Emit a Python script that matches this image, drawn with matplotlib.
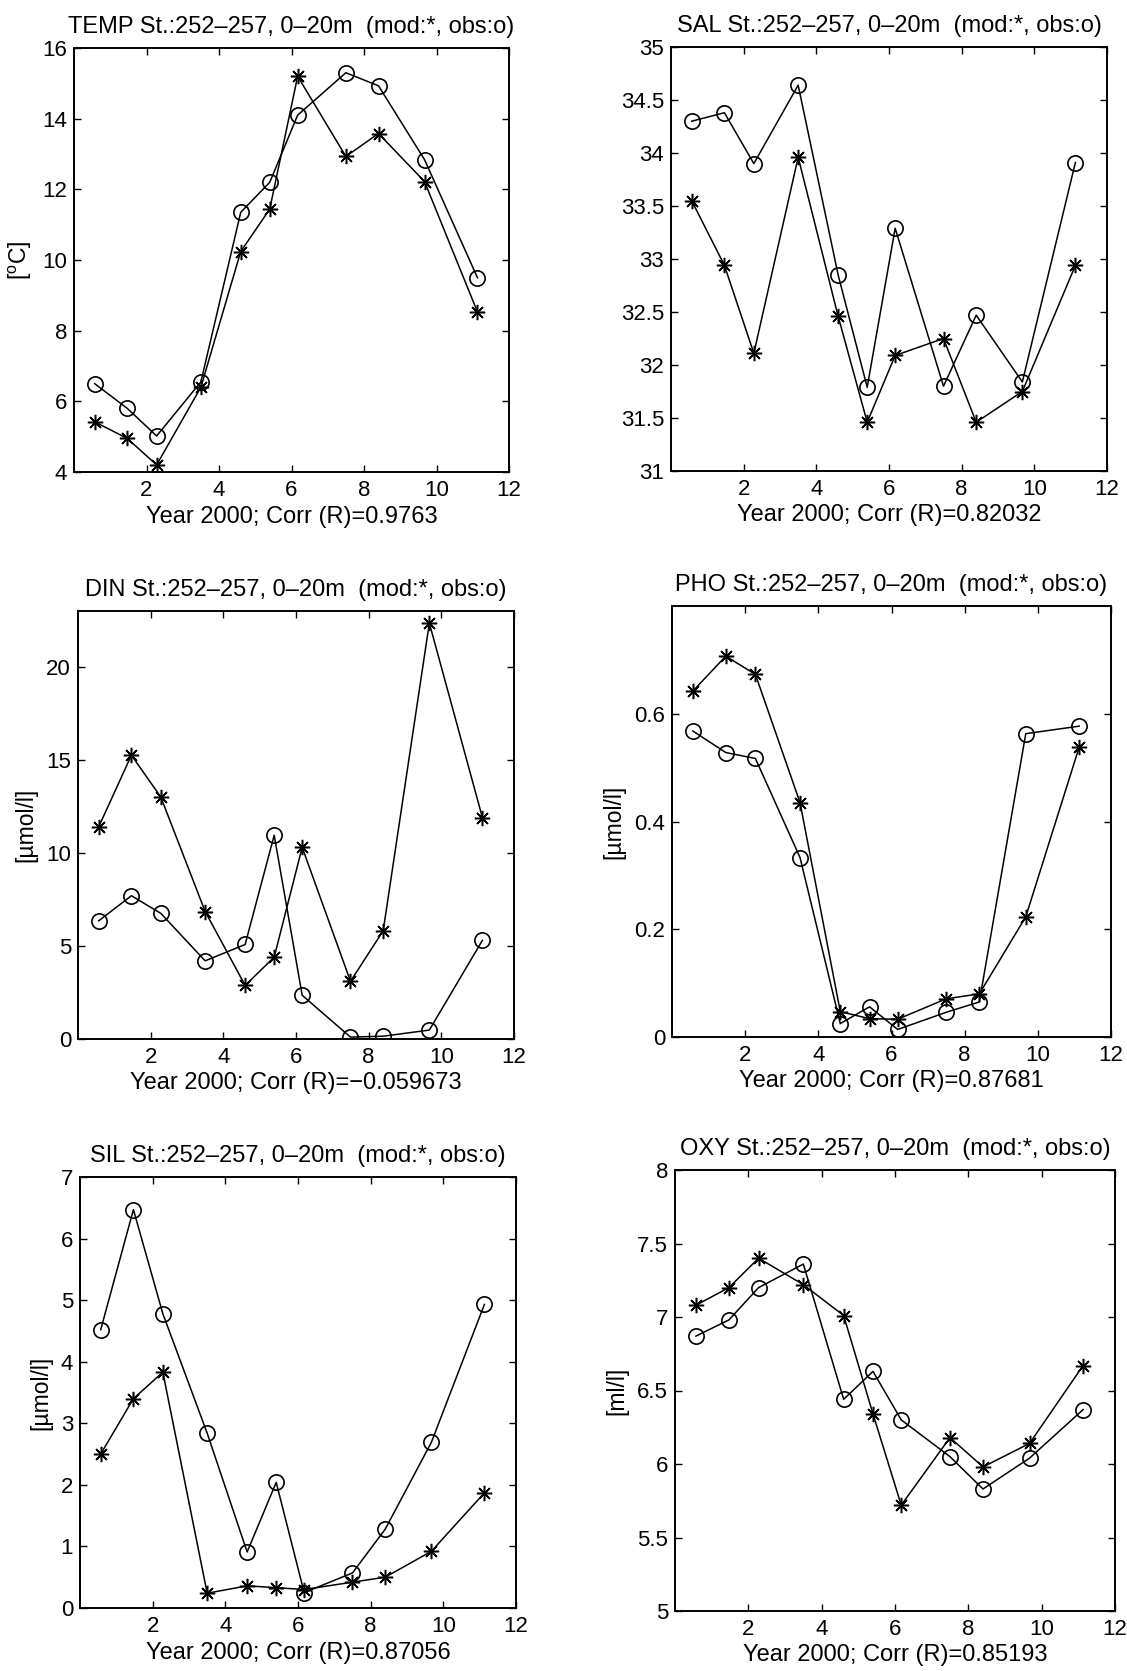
import matplotlib
matplotlib.use("Agg")
import matplotlib.pyplot as plt
from matplotlib.ticker import FuncFormatter

plt.rcParams['font.family'] = ['Liberation Sans', 'DejaVu Sans']
plt.rcParams['mathtext.fontset'] = 'custom'
plt.rcParams['mathtext.rm'] = 'Liberation Sans'
plt.rcParams['mathtext.it'] = 'Liberation Sans'

# ---- data ----
months = [0.57, 1.47, 2.28, 3.5, 4.6, 5.4, 6.17, 7.5, 8.4, 9.67, 11.13]

temp_obs = [6.5, 5.8, 5.02, 6.55, 11.35, 12.2, 14.1, 15.3, 14.93, 12.84, 9.5]
temp_mod = [5.42, 4.95, 4.2, 6.4, 10.24, 11.44, 15.2, 12.93, 13.58, 12.22, 8.53]

sal_obs = [34.30, 34.38, 33.90, 34.64, 32.85, 31.79, 33.29, 31.80, 32.47, 31.84, 33.91]
sal_mod = [33.55, 32.94, 32.11, 33.96, 32.46, 31.46, 32.09, 32.25, 31.46, 31.75, 32.94]

din_obs = [6.35, 7.7, 6.75, 4.2, 5.08, 10.95, 2.35, 0.1, 0.15, 0.48, 5.3]
din_mod = [11.4, 15.25, 13.0, 6.85, 2.88, 4.4, 10.3, 3.1, 5.82, 22.35, 11.9]

pho_obs = [0.568, 0.528, 0.517, 0.333, 0.025, 0.056, 0.014, 0.046, 0.065, 0.563, 0.577]
pho_mod = [0.642, 0.707, 0.673, 0.435, 0.047, 0.034, 0.033, 0.071, 0.080, 0.223, 0.538]

sil_obs = [4.52, 6.47, 4.78, 2.84, 0.91, 2.04, 0.25, 0.57, 1.28, 2.69, 4.93]
sil_mod = [2.5, 3.4, 3.83, 0.24, 0.36, 0.33, 0.30, 0.42, 0.5, 0.92, 1.87]

oxy_obs = [6.87, 6.98, 7.20, 7.36, 6.44, 6.63, 6.30, 6.05, 5.83, 6.04, 6.37]
oxy_mod = [7.08, 7.20, 7.40, 7.22, 7.01, 6.34, 5.72, 6.18, 5.98, 6.14, 6.67]

names = ['TEMP', 'SAL', 'DIN', 'PHO', 'SIL', 'OXY']
corr = ['0.9763', '0.82032', '-0.059673', '0.87681', '0.87056', '0.85193']
ylabels = ['[$^{o}$C]', '', '[\u00b5mol/l]', '[\u00b5mol/l]', '[\u00b5mol/l]', '[ml/l]']
ylims = [(4, 16), (31, 35), (0, 23), (0, 0.8), (0, 7), (5, 8)]
yticks = [[4, 6, 8, 10, 12, 14, 16],
          [31, 31.5, 32, 32.5, 33, 33.5, 34, 34.5, 35],
          [0, 5, 10, 15, 20],
          [0, 0.2, 0.4, 0.6],
          [0, 1, 2, 3, 4, 5, 6, 7],
          [5, 5.5, 6, 6.5, 7, 7.5, 8]]
xticks = [2, 4, 6, 8, 10, 12]
obs_series = [temp_obs, sal_obs, din_obs, pho_obs, sil_obs, oxy_obs]
mod_series = [temp_mod, sal_mod, din_mod, pho_mod, sil_mod, oxy_mod]

# ---- layout (pixel boxes: left, top, right, bottom) ----
W, H = 1127, 1671
boxes = [(74, 48, 509, 472), (671, 47, 1107, 471),
         (78, 611, 514, 1039), (672, 606, 1111, 1037),
         (80, 1177, 516, 1608), (675, 1170, 1115, 1611)]

fig = plt.figure(figsize=(W / 100, H / 100), dpi=100)
fmt = FuncFormatter(lambda v, p: ('%g' % v))

for i in range(6):
    l, t, r, b = boxes[i]
    ax = fig.add_axes([l / W, 1 - b / H, (r - l) / W, (b - t) / H])
    ax.plot(months, mod_series[i], color='black', lw=1.1, marker=(8, 2, 0),
            ms=11, mew=1.1, mec='black')
    ax.plot(months, obs_series[i], color='black', lw=1.1, marker='o',
            ms=11, mfc='none', mew=1.2, mec='black')
    ax.set_xlim(0, 12)
    ax.set_ylim(*ylims[i])
    ax.set_xticks(xticks)
    ax.set_yticks(yticks[i])
    ax.yaxis.set_major_formatter(fmt)
    ax.tick_params(direction='in', length=5, width=1, top=True, right=True,
                   labelsize=16)
    ax.tick_params(axis='x', pad=6)
    ax.tick_params(axis='y', pad=5)
    for s in ax.spines.values():
        s.set_linewidth(1.4)
    ax.set_title('%s St.:252\u2013257, 0\u201320m  (mod:*, obs:o)' % names[i],
                 fontsize=17, pad=10.5)
    ax.set_xlabel('Year 2000; Corr (R)=%s' % corr[i].replace('-', '\u2212'),
                  fontsize=17, labelpad=3)
    if ylabels[i]:
        ax.set_ylabel(ylabels[i], fontsize=16.5, labelpad=6)

fig.savefig('out.png', dpi=100)
